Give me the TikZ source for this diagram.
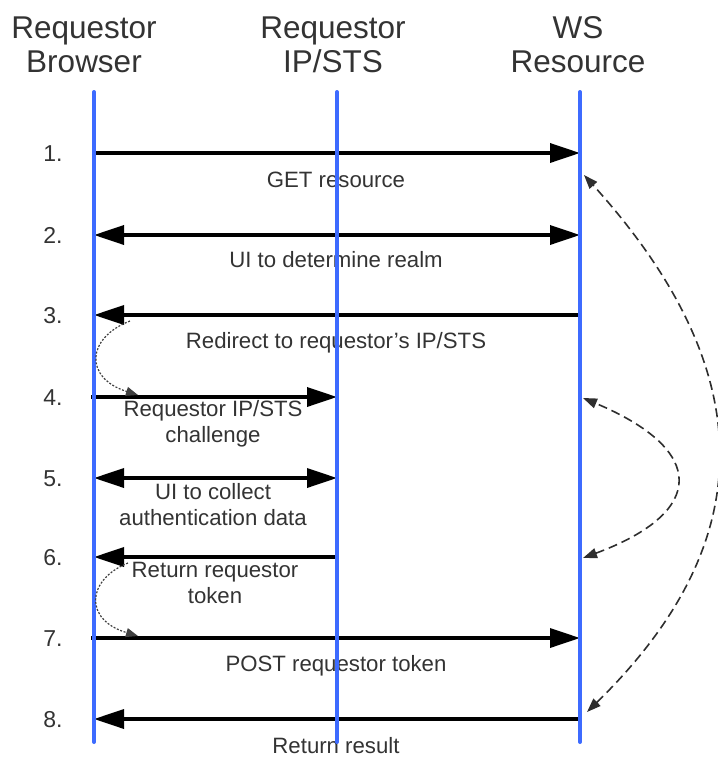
\documentclass[tikz,border=0pt]{standalone}
\usepackage{fontspec}
\setmainfont{Liberation Sans}
\usetikzlibrary{arrows.meta}
\definecolor{lifeblue}{HTML}{3D6BFF}
\definecolor{txtgray}{HTML}{333333}
\definecolor{dashgray}{HTML}{2E2E2E}
\begin{document}
\begin{tikzpicture}[x=1pt,y=-1pt,
  header/.style={font=\fontsize{31.5}{34}\selectfont, text=txtgray, align=center, anchor=base, inner sep=0pt},
  numlabel/.style={font=\fontsize{23}{26}\selectfont, text=txtgray, anchor=base, inner sep=0pt},
  msglabel/.style={font=\fontsize{22.2}{26}\selectfont, text=txtgray, align=center, anchor=base, inner sep=0pt},
  lifeline/.style={line width=4pt, lifeblue, line cap=round},
  msg/.style={line width=3.5pt, black, -{Triangle[length=30pt,width=19pt]}},
  dmsg/.style={line width=3.5pt, black, {Triangle[length=30pt,width=19pt]}-{Triangle[length=30pt,width=19pt]}},
  dotcurve/.style={line width=1.2pt, black!75, dash pattern=on 2pt off 1.6pt, -{Triangle[length=12pt,width=9pt]}},
  dashcurve/.style={line width=1.6pt, dashgray, dash pattern=on 9pt off 5pt, {Triangle[length=14pt,width=10pt]}-{Triangle[length=14pt,width=10pt]}}
]
\useasboundingbox (0,0) rectangle (718,761);

% lifeline end points
\coordinate (B0) at (94,92);  \coordinate (Bz) at (94,742);
\coordinate (I0) at (337,92); \coordinate (Iz) at (337,742);
\coordinate (W0) at (580,92); \coordinate (Wz) at (580,742);

\foreach \i/\y in {1/153,2/235,3/315,4/397,5/478,6/557,7/638,8/719}{
  \coordinate (B\i) at (94,\y);
  \coordinate (I\i) at (337,\y);
  \coordinate (W\i) at (580,\y);
  \node[numlabel] (n\i) at (53,\y+8) {\i.};
}

% headers (base = baseline of the last line)
\node[header] (hB) at (84,72) {Requestor\\Browser};
\node[header] (hI) at (333,72) {Requestor\\IP/STS};
\node[header] (hW) at (578,72) {WS\\Resource};

% messages
\draw[msg] (B1) -- (W1);
\draw[dmsg] (B2) -- (W2);
\draw[msg] (W3) -- (B3);
\draw[msg] ([xshift=-3pt]B4) -- (I4);
\draw[dmsg] (B5) -- (I5);
\draw[msg] (I6) -- (B6);
\draw[msg] ([xshift=-3pt]B7) -- (W7);
\draw[msg] (W8) -- (B8);

% message labels
\node[msglabel] (l1) at (336,187) {GET resource};
\node[msglabel] (l2) at (336,267) {UI to determine realm};
\node[msglabel] (l3) at (336,348) {Redirect to requestor’s IP/STS};
\node[msglabel] (l4) at (213,442) {Requestor IP/STS\\challenge};
\node[msglabel] (l5) at (213,525) {UI to collect\\authentication data};
\node[msglabel] (l6) at (215,603) {Return requestor\\token};
\node[msglabel] (l7) at (336,671) {POST requestor token};
\node[msglabel] (l8) at (336,753) {Return result};

% lifelines
\draw[lifeline] (B0) -- (Bz);
\draw[lifeline] (I0) -- (Iz);
\draw[lifeline] (W0) -- (Wz);

% dotted curves on the browser side
\coordinate (d1s) at (130,321);
\coordinate (d1e) at (138,395);
\coordinate (d2s) at (128,563);
\coordinate (d2e) at (138,636);
\draw[dotcurve] (d1s) .. controls (86,338) and (84,378) .. (d1e);
\draw[dotcurve] (d2s) .. controls (86,580) and (84,620) .. (d2e);

% dashed curves on the resource side
\coordinate (cT) at (584,175);
\coordinate (cB) at (587,712);
\coordinate (mT) at (583,398);
\coordinate (mB) at (583,558);
\draw[dashcurve] (cB) .. controls (763,540) and (760,370) .. (cT);
\draw[dashcurve] (mB) .. controls (707,512) and (707,450) .. (mT);
\end{tikzpicture}
\end{document}
